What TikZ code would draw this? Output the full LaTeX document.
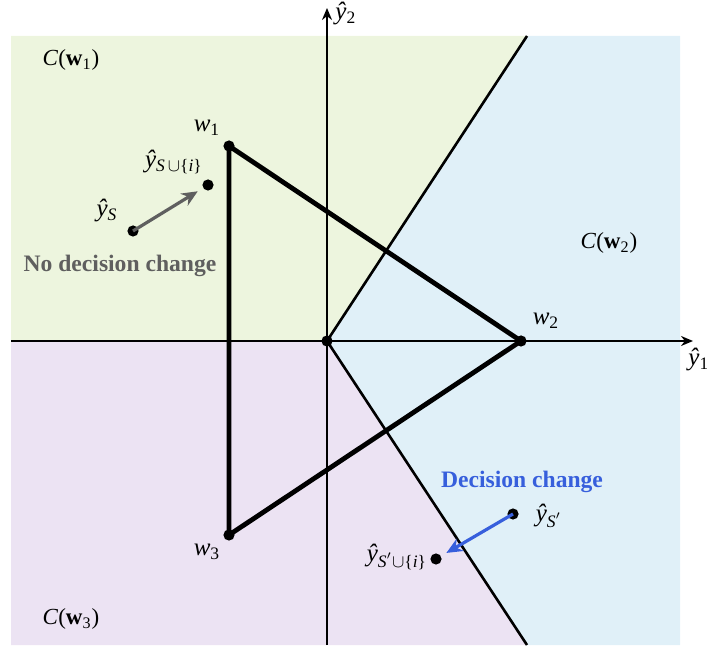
\documentclass[tikz,border=0pt]{standalone}
\usepackage{fontspec}
\setmainfont{Liberation Serif}
\usetikzlibrary{arrows.meta}
\definecolor{regA}{RGB}{237,245,222}
\definecolor{regB}{RGB}{224,240,248}
\definecolor{regC}{RGB}{236,227,243}
\definecolor{grayarr}{RGB}{95,95,95}
\definecolor{bluearr}{RGB}{55,95,220}
\newcommand{\yh}{\textit{\^{y}}}
\newcommand{\sbs}[1]{\textsubscript{#1}}
\tikzset{
  axis/.style={line width=1pt,-{Stealth[length=6pt,width=5pt]}},
  bound/.style={line width=1.3pt},
  tri/.style={line width=2.4pt,line join=round},
  dot/.style={circle,fill=black,inner sep=0pt,minimum size=5.6pt},
  lab/.style={inner sep=1pt,font=\fontsize{12.5}{14}\selectfont},
  clab/.style={inner sep=1pt,font=\fontsize{11.5}{13}\selectfont},
  note/.style={inner sep=1pt,font=\fontsize{11.8}{13}\selectfont\bfseries},
  mv/.style={line width=1.6pt,-{Stealth[length=8pt,width=7pt]},shorten >=3pt}
}
\begin{document}
\begin{tikzpicture}[x=0.5pt,y=-0.5pt]
\useasboundingbox (0,0) rectangle (707,646);
% regions
\fill[regA] (11,36) -- (527,36) -- (327,341) -- (11,341) -- cycle;
\fill[regB] (527,36) -- (680,36) -- (680,645) -- (527,645) -- (327,341) -- cycle;
\fill[regC] (11,341) -- (327,341) -- (527,645) -- (11,645) -- cycle;
% coordinates
\coordinate (O) at (327,341);
\coordinate (xl) at (11,341);
\coordinate (xr) at (693,341);
\coordinate (yb) at (327,645);
\coordinate (yt) at (327,8);
\coordinate (bt) at (527,36);
\coordinate (bb) at (527,645);
% boundaries
\draw[bound] (O) -- (bt);
\draw[bound] (O) -- (bb);
% axes
\draw[axis] (xl) -- (xr);
\draw[axis] (yb) -- (yt);
\node[lab,anchor=north west] (y1) at (686,346) {\yh\sbs{1}};
\node[lab,anchor=west] (y2) at (333,14) {\yh\sbs{2}};
% triangle
\node[dot] (w1) at (229,146) {};
\node[dot] (w2) at (521,341) {};
\node[dot] (w3) at (229,535) {};
\node[dot] (O2) at (327,341) {};
\draw[tri] (w1.center) -- (w2.center) -- (w3.center) -- cycle;
\node[lab] (lw1) at (207,128) {\textit{w}\sbs{1}};
\node[lab] (lw2) at (546,321) {\textit{w}\sbs{2}};
\node[lab] (lw3) at (207,552) {\textit{w}\sbs{3}};
% region labels
\node[clab] (c1) at (71,60) {\textit{C}(\textbf{w}\sbs{1})};
\node[clab] (c2) at (609,243) {\textit{C}(\textbf{w}\sbs{2})};
\node[clab] (c3) at (71,619) {\textit{C}(\textbf{w}\sbs{3})};
% no decision change
\node[dot] (ys) at (133,231) {};
\node[dot] (ysi) at (208,185) {};
\draw[mv,grayarr] (ys.center) -- (ysi);
\node[lab] (lys) at (107,211) {\yh\sbs{\textit{S}}};
\node[lab] (lysi) at (174,162) {\yh\sbs{\textit{S}\,$\cup$\{\textit{i}\}}};
\node[note,text=grayarr] (ndc) at (120,266) {No decision change};
% decision change
\node[dot] (ysp) at (513,514) {};
\node[dot] (yspi) at (436,559) {};
\draw[mv,bluearr] (ysp.center) -- (yspi);
\node[lab] (lysp) at (549,516) {\yh\sbs{\textit{S}$'$}};
\node[lab] (lyspi) at (397,557) {\yh\sbs{\textit{S}$'$$\cup$\{\textit{i}\}}};
\node[note,text=bluearr] (dc) at (522,482) {Decision change};
\end{tikzpicture}
\end{document}
